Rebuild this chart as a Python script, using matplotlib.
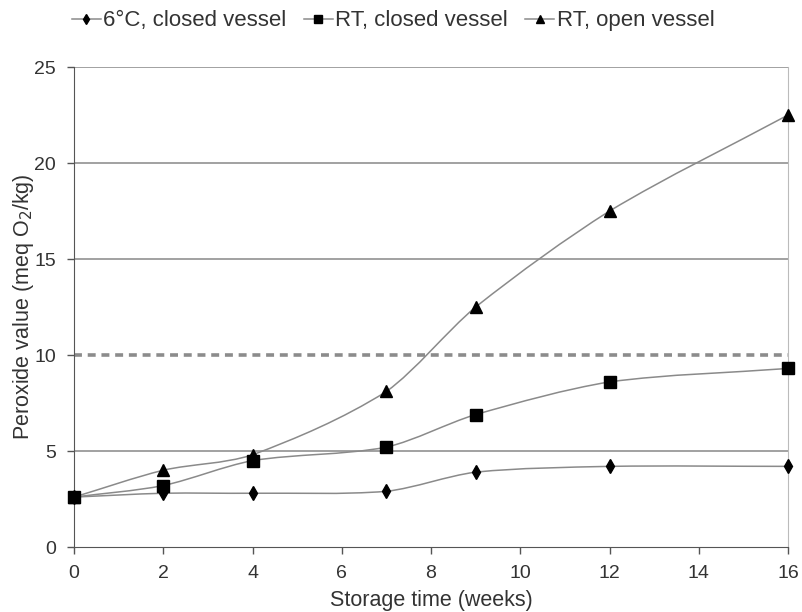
import matplotlib
matplotlib.use("Agg")
import matplotlib.pyplot as plt
from matplotlib.path import Path
from matplotlib.patches import PathPatch
from matplotlib.lines import Line2D
import numpy as np

plt.rcParams["font.family"] = ["Liberation Sans", "DejaVu Sans"]

# data
weeks = [0, 2, 4, 7, 9, 12, 16]
cold_closed = [2.6, 2.8, 2.8, 2.9, 3.9, 4.2, 4.2]
rt_closed = [2.6, 3.2, 4.5, 5.2, 6.9, 8.6, 9.3]
rt_open = [2.6, 4.0, 4.8, 8.1, 12.5, 17.5, 22.5]
limit = 10
labels = ["6°C, closed vessel", "RT, closed vessel", "RT, open vessel"]
markers = ["d", "s", "^"]
msizes = [7, 8, 8]

LINE = "#8a8a8a"
GRID = "#9a9a9a"


def smooth_path(xs, ys, k=0.8):
    # hermite curve through the points, tangents scaled by segment width
    xs = np.asarray(xs, float)
    ys = np.asarray(ys, float)
    n = len(xs)
    slopes = np.empty(n)
    slopes[0] = (ys[1] - ys[0]) / (xs[1] - xs[0])
    slopes[-1] = (ys[-1] - ys[-2]) / (xs[-1] - xs[-2])
    for i in range(1, n - 1):
        slopes[i] = (ys[i + 1] - ys[i - 1]) / (xs[i + 1] - xs[i - 1])
    verts = [(xs[0], ys[0])]
    codes = [Path.MOVETO]
    for i in range(n - 1):
        h = xs[i + 1] - xs[i]
        sec = (ys[i + 1] - ys[i]) / h
        m0 = k * slopes[i] + (1 - k) * sec
        m1 = k * slopes[i + 1] + (1 - k) * sec
        verts += [(xs[i] + h / 3, ys[i] + m0 * h / 3),
                  (xs[i + 1] - h / 3, ys[i + 1] - m1 * h / 3),
                  (xs[i + 1], ys[i + 1])]
        codes += [Path.CURVE4] * 3
    return Path(verts, codes)


fig = plt.figure(figsize=(8.02, 6.12), dpi=100)
ax = fig.add_axes([0.0923, 0.1062, 0.8903, 0.7843])

for y in [5, 15, 20, 25]:
    ax.axhline(y, color=GRID, lw=1.3, zorder=1)
ax.axhline(limit, color="#8c8c8c", lw=2.6, ls=(0, (2.2, 1.6)), zorder=1)

handles = []
for ys, lab, m, ms in zip([cold_closed, rt_closed, rt_open], labels, markers, msizes):
    ax.add_patch(PathPatch(smooth_path(weeks, ys), fill=False, ec=LINE, lw=1.1, zorder=2))
    ax.plot(weeks, ys, ls="none", marker=m, ms=ms, color="black", zorder=3, clip_on=False)
    handles.append(Line2D([], [], color=LINE, lw=1.1, marker=m, ms=ms * 0.8,
                          mfc="black", mec="black"))

ax.set_xlim(0, 16)
ax.set_ylim(0, 25)
ax.set_xticks(range(0, 17, 2))
ax.set_yticks(range(0, 26, 5))
ax.tick_params(direction="out", length=5, width=1, color="#555555",
               labelsize=14, labelcolor="#333333")
ax.tick_params(axis="x", pad=8)
ax.tick_params(axis="y", pad=8)
ax.spines["top"].set_visible(False)
ax.spines["right"].set_color("#bbbbbb")
ax.spines["left"].set_color("#555555")
ax.spines["bottom"].set_color("#555555")

ax.set_xlabel("Storage time (weeks)", fontsize=15.5, color="#333333", labelpad=6)
ax.set_ylabel("Peroxide value (meq O$_2$/kg)", fontsize=15.5, color="#333333", labelpad=-1)

fig.legend(handles, labels, loc="center", bbox_to_anchor=(0.49, 0.966), ncol=3,
           frameon=False, fontsize=16, handlelength=1.3, handletextpad=0.1,
           columnspacing=0.8, labelcolor="#333333")

fig.savefig("out.png", dpi=100, facecolor="white")
